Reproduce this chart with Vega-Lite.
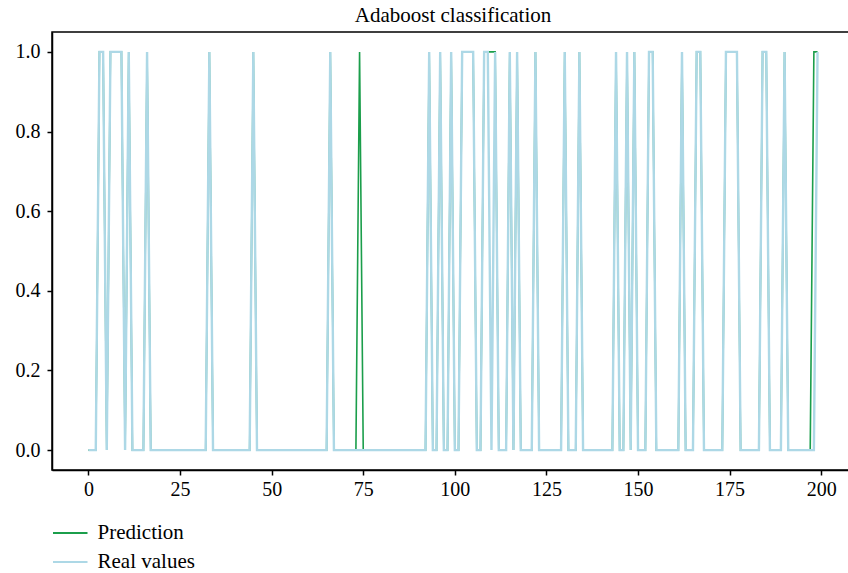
{
  "$schema": "https://vega.github.io/schema/vega-lite/v6.json",
  "width": 802,
  "height": 438,
  "autosize": "none",
  "padding": {"left": 52, "top": 32, "right": 0, "bottom": 103},
  "background": "white",
  "title": {"text": "Adaboost classification", "font": "Liberation Serif", "fontSize": 21, "fontWeight": "normal", "color": "black", "offset": 6},
  "config": {
    "view": {"stroke": "black", "strokeWidth": 1.5},
    "axis": {"domainColor": "black", "domainWidth": 1.5, "tickColor": "black", "tickWidth": 1.5, "tickSize": 5, "labelFont": "Liberation Serif", "labelFontSize": 20, "labelColor": "black", "grid": false, "title": null}
  },
  "data": {"values": [
    {"x":0,"Prediction":0,"Real values":0},{"x":1,"Prediction":0,"Real values":0},{"x":2,"Prediction":0,"Real values":0},{"x":3,"Prediction":1,"Real values":1},{"x":4,"Prediction":1,"Real values":1},
    {"x":5,"Prediction":0,"Real values":0},{"x":6,"Prediction":1,"Real values":1},{"x":7,"Prediction":1,"Real values":1},{"x":8,"Prediction":1,"Real values":1},{"x":9,"Prediction":1,"Real values":1},
    {"x":10,"Prediction":0,"Real values":0},{"x":11,"Prediction":1,"Real values":1},{"x":12,"Prediction":0,"Real values":0},{"x":13,"Prediction":0,"Real values":0},{"x":14,"Prediction":0,"Real values":0},
    {"x":15,"Prediction":0,"Real values":0},{"x":16,"Prediction":1,"Real values":1},{"x":17,"Prediction":0,"Real values":0},{"x":18,"Prediction":0,"Real values":0},{"x":19,"Prediction":0,"Real values":0},
    {"x":20,"Prediction":0,"Real values":0},{"x":21,"Prediction":0,"Real values":0},{"x":22,"Prediction":0,"Real values":0},{"x":23,"Prediction":0,"Real values":0},{"x":24,"Prediction":0,"Real values":0},
    {"x":25,"Prediction":0,"Real values":0},{"x":26,"Prediction":0,"Real values":0},{"x":27,"Prediction":0,"Real values":0},{"x":28,"Prediction":0,"Real values":0},{"x":29,"Prediction":0,"Real values":0},
    {"x":30,"Prediction":0,"Real values":0},{"x":31,"Prediction":0,"Real values":0},{"x":32,"Prediction":0,"Real values":0},{"x":33,"Prediction":1,"Real values":1},{"x":34,"Prediction":0,"Real values":0},
    {"x":35,"Prediction":0,"Real values":0},{"x":36,"Prediction":0,"Real values":0},{"x":37,"Prediction":0,"Real values":0},{"x":38,"Prediction":0,"Real values":0},{"x":39,"Prediction":0,"Real values":0},
    {"x":40,"Prediction":0,"Real values":0},{"x":41,"Prediction":0,"Real values":0},{"x":42,"Prediction":0,"Real values":0},{"x":43,"Prediction":0,"Real values":0},{"x":44,"Prediction":0,"Real values":0},
    {"x":45,"Prediction":1,"Real values":1},{"x":46,"Prediction":0,"Real values":0},{"x":47,"Prediction":0,"Real values":0},{"x":48,"Prediction":0,"Real values":0},{"x":49,"Prediction":0,"Real values":0},
    {"x":50,"Prediction":0,"Real values":0},{"x":51,"Prediction":0,"Real values":0},{"x":52,"Prediction":0,"Real values":0},{"x":53,"Prediction":0,"Real values":0},{"x":54,"Prediction":0,"Real values":0},
    {"x":55,"Prediction":0,"Real values":0},{"x":56,"Prediction":0,"Real values":0},{"x":57,"Prediction":0,"Real values":0},{"x":58,"Prediction":0,"Real values":0},{"x":59,"Prediction":0,"Real values":0},
    {"x":60,"Prediction":0,"Real values":0},{"x":61,"Prediction":0,"Real values":0},{"x":62,"Prediction":0,"Real values":0},{"x":63,"Prediction":0,"Real values":0},{"x":64,"Prediction":0,"Real values":0},
    {"x":65,"Prediction":0,"Real values":0},{"x":66,"Prediction":1,"Real values":1},{"x":67,"Prediction":0,"Real values":0},{"x":68,"Prediction":0,"Real values":0},{"x":69,"Prediction":0,"Real values":0},
    {"x":70,"Prediction":0,"Real values":0},{"x":71,"Prediction":0,"Real values":0},{"x":72,"Prediction":0,"Real values":0},{"x":73,"Prediction":0,"Real values":0},{"x":74,"Prediction":1,"Real values":0},
    {"x":75,"Prediction":0,"Real values":0},{"x":76,"Prediction":0,"Real values":0},{"x":77,"Prediction":0,"Real values":0},{"x":78,"Prediction":0,"Real values":0},{"x":79,"Prediction":0,"Real values":0},
    {"x":80,"Prediction":0,"Real values":0},{"x":81,"Prediction":0,"Real values":0},{"x":82,"Prediction":0,"Real values":0},{"x":83,"Prediction":0,"Real values":0},{"x":84,"Prediction":0,"Real values":0},
    {"x":85,"Prediction":0,"Real values":0},{"x":86,"Prediction":0,"Real values":0},{"x":87,"Prediction":0,"Real values":0},{"x":88,"Prediction":0,"Real values":0},{"x":89,"Prediction":0,"Real values":0},
    {"x":90,"Prediction":0,"Real values":0},{"x":91,"Prediction":0,"Real values":0},{"x":92,"Prediction":0,"Real values":0},{"x":93,"Prediction":1,"Real values":1},{"x":94,"Prediction":0,"Real values":0},
    {"x":95,"Prediction":0,"Real values":0},{"x":96,"Prediction":1,"Real values":1},{"x":97,"Prediction":0,"Real values":0},{"x":98,"Prediction":0,"Real values":0},{"x":99,"Prediction":1,"Real values":1},
    {"x":100,"Prediction":0,"Real values":0},{"x":101,"Prediction":0,"Real values":0},{"x":102,"Prediction":1,"Real values":1},{"x":103,"Prediction":1,"Real values":1},{"x":104,"Prediction":1,"Real values":1},
    {"x":105,"Prediction":1,"Real values":1},{"x":106,"Prediction":0,"Real values":0},{"x":107,"Prediction":0,"Real values":0},{"x":108,"Prediction":1,"Real values":1},{"x":109,"Prediction":1,"Real values":1},
    {"x":110,"Prediction":1,"Real values":0},{"x":111,"Prediction":1,"Real values":1},{"x":112,"Prediction":0,"Real values":0},{"x":113,"Prediction":0,"Real values":0},{"x":114,"Prediction":0,"Real values":0},
    {"x":115,"Prediction":1,"Real values":1},{"x":116,"Prediction":0,"Real values":0},{"x":117,"Prediction":1,"Real values":1},{"x":118,"Prediction":0,"Real values":0},{"x":119,"Prediction":0,"Real values":0},
    {"x":120,"Prediction":0,"Real values":0},{"x":121,"Prediction":0,"Real values":0},{"x":122,"Prediction":1,"Real values":1},{"x":123,"Prediction":0,"Real values":0},{"x":124,"Prediction":0,"Real values":0},
    {"x":125,"Prediction":0,"Real values":0},{"x":126,"Prediction":0,"Real values":0},{"x":127,"Prediction":0,"Real values":0},{"x":128,"Prediction":0,"Real values":0},{"x":129,"Prediction":0,"Real values":0},
    {"x":130,"Prediction":1,"Real values":1},{"x":131,"Prediction":0,"Real values":0},{"x":132,"Prediction":0,"Real values":0},{"x":133,"Prediction":0,"Real values":0},{"x":134,"Prediction":1,"Real values":1},
    {"x":135,"Prediction":0,"Real values":0},{"x":136,"Prediction":0,"Real values":0},{"x":137,"Prediction":0,"Real values":0},{"x":138,"Prediction":0,"Real values":0},{"x":139,"Prediction":0,"Real values":0},
    {"x":140,"Prediction":0,"Real values":0},{"x":141,"Prediction":0,"Real values":0},{"x":142,"Prediction":0,"Real values":0},{"x":143,"Prediction":0,"Real values":0},{"x":144,"Prediction":1,"Real values":1},
    {"x":145,"Prediction":0,"Real values":0},{"x":146,"Prediction":0,"Real values":0},{"x":147,"Prediction":1,"Real values":1},{"x":148,"Prediction":0,"Real values":0},{"x":149,"Prediction":1,"Real values":1},
    {"x":150,"Prediction":0,"Real values":0},{"x":151,"Prediction":0,"Real values":0},{"x":152,"Prediction":0,"Real values":0},{"x":153,"Prediction":1,"Real values":1},{"x":154,"Prediction":1,"Real values":1},
    {"x":155,"Prediction":0,"Real values":0},{"x":156,"Prediction":0,"Real values":0},{"x":157,"Prediction":0,"Real values":0},{"x":158,"Prediction":0,"Real values":0},{"x":159,"Prediction":0,"Real values":0},
    {"x":160,"Prediction":0,"Real values":0},{"x":161,"Prediction":0,"Real values":0},{"x":162,"Prediction":1,"Real values":1},{"x":163,"Prediction":0,"Real values":0},{"x":164,"Prediction":0,"Real values":0},
    {"x":165,"Prediction":0,"Real values":0},{"x":166,"Prediction":1,"Real values":1},{"x":167,"Prediction":1,"Real values":1},{"x":168,"Prediction":0,"Real values":0},{"x":169,"Prediction":0,"Real values":0},
    {"x":170,"Prediction":0,"Real values":0},{"x":171,"Prediction":0,"Real values":0},{"x":172,"Prediction":0,"Real values":0},{"x":173,"Prediction":0,"Real values":0},{"x":174,"Prediction":1,"Real values":1},
    {"x":175,"Prediction":1,"Real values":1},{"x":176,"Prediction":1,"Real values":1},{"x":177,"Prediction":1,"Real values":1},{"x":178,"Prediction":0,"Real values":0},{"x":179,"Prediction":0,"Real values":0},
    {"x":180,"Prediction":0,"Real values":0},{"x":181,"Prediction":0,"Real values":0},{"x":182,"Prediction":0,"Real values":0},{"x":183,"Prediction":0,"Real values":0},{"x":184,"Prediction":1,"Real values":1},
    {"x":185,"Prediction":1,"Real values":1},{"x":186,"Prediction":0,"Real values":0},{"x":187,"Prediction":0,"Real values":0},{"x":188,"Prediction":0,"Real values":0},{"x":189,"Prediction":0,"Real values":0},
    {"x":190,"Prediction":1,"Real values":1},{"x":191,"Prediction":0,"Real values":0},{"x":192,"Prediction":0,"Real values":0},{"x":193,"Prediction":0,"Real values":0},{"x":194,"Prediction":0,"Real values":0},
    {"x":195,"Prediction":0,"Real values":0},{"x":196,"Prediction":0,"Real values":0},{"x":197,"Prediction":0,"Real values":0},{"x":198,"Prediction":1,"Real values":0},{"x":199,"Prediction":1,"Real values":1}
  ]},
  "transform": [{"fold": ["Prediction", "Real values"], "as": ["series", "value"]}],
  "encoding": {
    "x": {"field": "x", "type": "quantitative", "scale": {"domain": [-9.95, 208.95], "nice": false, "zero": false}, "axis": {"values": [0, 25, 50, 75, 100, 125, 150, 175, 200], "labelPadding": 4}},
    "y": {"field": "value", "type": "quantitative", "scale": {"domain": [-0.05, 1.05], "nice": false, "zero": false}, "axis": {"values": [0, 0.2, 0.4, 0.6, 0.8, 1.0], "format": ".1f", "labelPadding": 7}},
    "color": {"field": "series", "type": "nominal", "scale": {"domain": ["Prediction", "Real values"], "range": ["#1b9e4b", "#add8e6"]},
      "legend": {"orient": "none", "legendX": 5.75, "legendY": 488.5, "title": null, "padding": 0, "symbolType": "M-1.5,0H1.5", "symbolSize": 529, "symbolStrokeWidth": 2, "labelFont": "Liberation Serif", "labelFontSize": 21, "labelColor": "black", "labelOffset": 14.75, "rowPadding": 6}}
  },
  "layer": [
    {"transform": [{"filter": "datum.series === 'Prediction'"}], "mark": {"type": "line", "strokeWidth": 1.6, "clip": true}},
    {"transform": [{"filter": "datum.series === 'Real values'"}], "mark": {"type": "line", "strokeWidth": 2.4, "clip": true}}
  ]
}
